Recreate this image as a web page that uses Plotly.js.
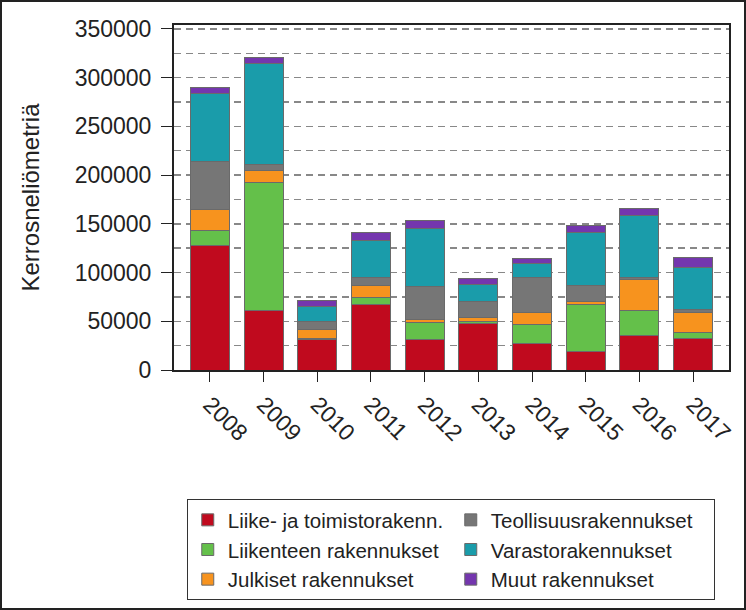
<!DOCTYPE html>
<html>
<head>
<meta charset="utf-8">
<script src="https://cdn.plot.ly/plotly-3.0.1.min.js"></script>
<style>
html,body{margin:0;padding:0;background:#fff;}
#frame{width:746px;height:610px;box-sizing:border-box;border:2px solid #222;overflow:hidden;}
#chart{width:742px;height:606px;}
</style>
</head>
<body>
<div id="frame"><div id="chart"></div></div>
<script>
var years = ['2008','2009','2010','2011','2012','2013','2014','2015','2016','2017'];
var liike      = [128000, 61500, 31000, 67000, 31500, 48000, 27000, 19000, 35000, 32500];
var liikenteen = [15000, 131000, 1500, 7500, 17000, 1500, 20000, 48500, 26500, 6000];
var julkiset   = [21500, 12500, 9500, 12500, 3500, 4000, 11500, 2500, 31500, 20000];
var teollisuus = [49500, 6000, 8000, 8000, 33500, 16500, 36500, 16500, 2000, 3500];
var varasto    = [70000, 104000, 15500, 37500, 60000, 17500, 14000, 54500, 64000, 43000];
var muut       = [5500, 5500, 6000, 9000, 7500, 6500, 5500, 7000, 7000, 10000];

var seriesNames = ['Liike- ja toimistorakenn.', 'Liikenteen rakennukset', 'Julkiset rakennukset',
                   'Teollisuusrakennukset', 'Varastorakennukset', 'Muut rakennukset'];
var seriesData = [liike, liikenteen, julkiset, teollisuus, varasto, muut];
var colors = ['#C00A1E', '#64C04A', '#F7931E', '#767676', '#1A9CAA', '#7436AE'];
var ranks = [1, 3, 5, 2, 4, 6];

var traces = seriesData.map(function(d, i){
  return {
    type: 'bar', x: years, y: d, name: seriesNames[i],
    marker: {color: colors[i], line: {color: '#6a6a6a', width: 1}},
    legendrank: ranks[i]
  };
});

var layout = {
  width: 742, height: 606,
  margin: {l: 172, r: 15, t: 23, b: 238, autoexpand: false},
  barmode: 'stack', bargap: 0.27,
  paper_bgcolor: '#fff', plot_bgcolor: '#fff',
  font: {family: 'Liberation Sans, Arial, sans-serif', color: '#222'},
  xaxis: {
    type: 'category',
    range: [-0.67, 9.67], tickangle: 45, ticks: 'outside', ticklen: 10, tickcolor: '#222',
    showline: true, linecolor: '#222', linewidth: 2, mirror: true,
    tickfont: {size: 23, color: '#222'}, showgrid: false
  },
  yaxis: {
    range: [0, 354000], tick0: 0, dtick: 50000, ticks: 'outside', ticklen: 11, tickcolor: '#222',
    showline: true, linecolor: '#222', linewidth: 2, mirror: true,
    tickfont: {size: 23, color: '#222'}, tickformat: 'd', ticklabelstandoff: 5,
    showgrid: true, gridcolor: '#888', griddash: '7px,5px', gridwidth: 1.5,
    minor: {dtick: 25000, showgrid: true, gridcolor: '#888', griddash: '7px,5px', gridwidth: 1.5},
    zeroline: false,
    title: {text: 'Kerrosneliömetriä', font: {size: 24, color: '#222'}, standoff: 28}
  },
  showlegend: true,
  legend: {
    orientation: 'h', x: 0.023, xanchor: 'left', y: -0.374, yanchor: 'top',
    bordercolor: '#333', borderwidth: 1, bgcolor: '#fff',
    font: {size: 20.5, color: '#222'}, entrywidth: 218, traceorder: 'normal',
    itemwidth: 30
  }
};

Plotly.newPlot('chart', traces, layout, {displayModeBar: false, staticPlot: true});
</script>
</body>
</html>
